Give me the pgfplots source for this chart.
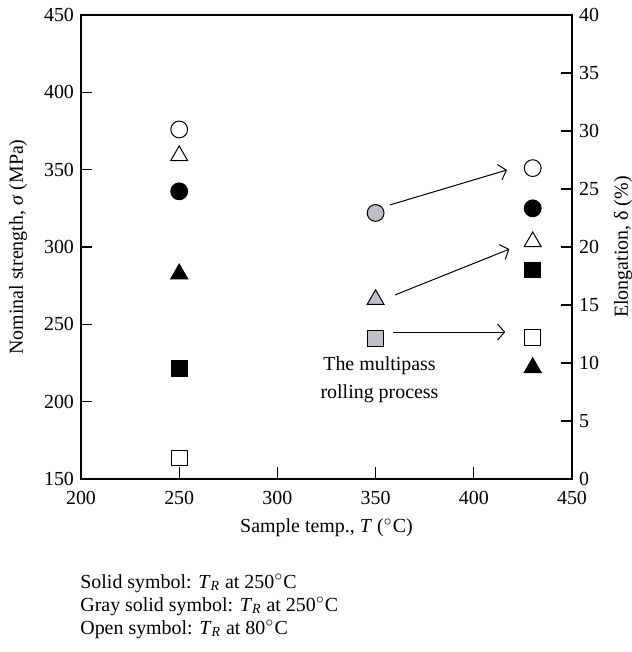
\documentclass[border=0pt]{standalone}
\usepackage{fontspec}
\setmainfont{Liberation Serif}
\usepackage{pgfplots}
\pgfplotsset{compat=1.18}
\usetikzlibrary{arrows.meta}
\definecolor{mgray}{RGB}{192,192,196}
\pgfplotsset{
  common/.style={
    at={(0,0)}, anchor=south west,
    width=245.5bp, height=232bp, scale only axis,
    xmin=200, xmax=450,
    tick align=inside,
    major tick length=5.75bp,
    axis line style={line width=0.75bp},
    every tick/.style={line width=0.6bp, black},
    tick label style={font=\fontsize{10}{12}\selectfont},
    xticklabel style={yshift=-2.5bp},
    /pgf/number format/assume math mode=true,
    label style={font=\fontsize{10}{12}\selectfont},
  },
  mk/.style={only marks, line width=0.5bp, mark options={solid, draw=black}},
}
\begin{document}
\begin{tikzpicture}[font=\fontsize{10}{12}\selectfont]
\path[use as bounding box] (-40.5bp,-86.5bp) rectangle (275.5bp,239.5bp);
\begin{axis}[common,
  ymin=150, ymax=450,
  xtick={200,250,...,450}, ytick={150,200,...,450},
  tick pos=left,
  xlabel={Sample temp., \textit{T} ($^{\circ}$C)},
  ylabel={Nominal strength, \textit{σ} (MPa)},
  every axis x label/.style={at={(axis description cs:0.5,-0.1056)}, anchor=center},
  every axis y label/.style={at={(axis description cs:-0.1283,0.5)}, anchor=center, rotate=90},
]
% open circles
\addplot[mk, mark=o, mark size=4.2bp] coordinates {(250,376) (430,351)};
% solid circles
\addplot[mk, mark=*, mark size=4.2bp, mark options={fill=black}] coordinates {(250,336) (430,325)};
% gray circle
\addplot[mk, mark=*, mark size=4.2bp, mark options={fill=mgray}] coordinates {(350,322)};
% open triangles
\addplot[mk, mark=triangle, mark size=4.9bp] coordinates {(250,359) (430,303.4)};
% solid triangles
\addplot[mk, mark=triangle*, mark size=4.9bp, mark options={fill=black}] coordinates {(250,282.6) (430,222)};
% gray triangle
\addplot[mk, mark=triangle*, mark size=4.9bp, mark options={fill=mgray}] coordinates {(350,266)};
\draw[-{Straight Barb[length=3.5bp,width=8bp]}, line width=0.5bp] (axis cs:357.3,327.2) -- (axis cs:416.9,349.8);
\draw[-{Straight Barb[length=3.5bp,width=8bp]}, line width=0.5bp] (axis cs:359.9,269) -- (axis cs:418.1,298.6);
\draw[-{Straight Barb[length=3.5bp,width=8bp]}, line width=0.5bp] (axis cs:359,245) -- (axis cs:416,245);
\node[align=center, font=\fontsize{10}{14.2}\selectfont] at (axis cs:352,214) {The multipass\\rolling process};
\end{axis}
\begin{axis}[common,
  ymin=0, ymax=40,
  ytick={0,5,...,40},
  axis x line=none,
  axis y line*=right,
  ylabel={Elongation, δ (\%)},
  every axis y label/.style={at={(axis description cs:1.1039,0.5)}, anchor=center, rotate=90},
]
% open squares
\addplot[mk, mark=square, mark size=3.9bp] coordinates {(250,1.8) (430,12.2)};
% solid squares
\addplot[mk, mark=square*, mark size=3.9bp, mark options={fill=black}] coordinates {(250,9.5) (430,18)};
% gray square
\addplot[mk, mark=square*, mark size=3.9bp, mark options={fill=mgray}] coordinates {(350,12.1)};
\end{axis}
\node[anchor=base west, inner sep=0pt] at (-0.5bp,-54.5bp) {Solid symbol: \textit{T}\textsubscript{\textit{R}} at 250$^{\circ}$C};
\node[anchor=base west, inner sep=0pt] at (-0.5bp,-66bp) {Gray solid symbol: \textit{T}\textsubscript{\textit{R}} at 250$^{\circ}$C};
\node[anchor=base west, inner sep=0pt] at (-0.5bp,-77.5bp) {Open symbol: \textit{T}\textsubscript{\textit{R}} at 80$^{\circ}$C};
\end{tikzpicture}
\end{document}
